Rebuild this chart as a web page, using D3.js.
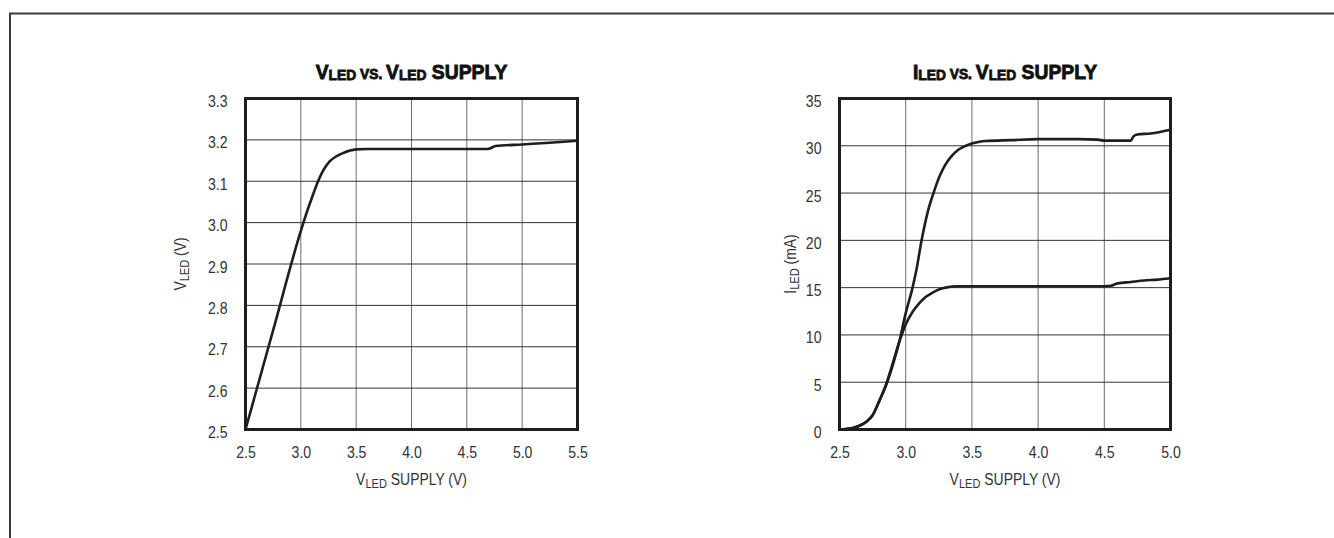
<!DOCTYPE html>
<html>
<head>
<meta charset="utf-8">
<script src="https://cdn.jsdelivr.net/npm/d3@7"></script>
<style>
  body { margin: 0; background: #fff; }
  svg { display: block; }
  .tick text { font-family: "Liberation Sans", Arial, sans-serif; font-size: 16px; fill: #333; }
  .lbl { font-family: "Liberation Sans", Arial, sans-serif; font-size: 17px; fill: #333; }
  .ttl { font-family: "Liberation Sans", Arial, sans-serif; font-weight: bold; fill: #111; stroke: #111; stroke-width: 0.9; }
</style>
</head>
<body>
<div id="chart"></div>
<script>
// ---- data ----
// left panel: VLED vs VLED supply
const leftSupply = [2.5, 2.75, 3.0, 3.06, 3.1, 3.156, 3.2, 3.26, 3.32, 3.38, 3.5, 3.6, 4.0, 4.5, 4.69, 4.76, 5.0, 5.25, 5.5];
const leftVled   = [2.5, 2.74, 2.98, 3.03, 3.06, 3.1, 3.125, 3.148, 3.16, 3.168, 3.177, 3.178, 3.178, 3.178, 3.178, 3.185, 3.189, 3.193, 3.198];

// right panel: ILED vs VLED supply, two settings
const supply30 = [2.5, 2.55, 2.6, 2.65, 2.7, 2.75, 2.8, 2.85, 2.9, 2.95, 3.0, 3.05, 3.08, 3.12, 3.17, 3.21, 3.26, 3.3, 3.34, 3.4, 3.47, 3.55, 3.6, 3.8, 4.0, 4.3, 4.45, 4.5, 4.7, 4.72, 4.75, 4.85, 5.0];
const iled30   = [0, 0.05, 0.15, 0.4, 0.8, 1.5, 3.0, 4.6, 6.7, 9.2, 12.3, 14.9, 16.8, 20.0, 23.2, 25.0, 26.9, 28.0, 28.8, 29.6, 30.1, 30.4, 30.5, 30.6, 30.7, 30.7, 30.65, 30.55, 30.55, 31.0, 31.2, 31.3, 31.7];
const supply15 = [2.5, 2.55, 2.6, 2.65, 2.7, 2.75, 2.8, 2.85, 2.9, 2.95, 3.0, 3.05, 3.1, 3.15, 3.2, 3.25, 3.3, 3.4, 3.6, 4.0, 4.5, 4.55, 4.6, 4.7, 4.8, 4.9, 5.0];
const iled15   = [0, 0.05, 0.15, 0.4, 0.8, 1.5, 3.0, 4.7, 6.9, 9.2, 11.1, 12.4, 13.3, 14.0, 14.45, 14.8, 15.0, 15.15, 15.15, 15.15, 15.15, 15.2, 15.45, 15.6, 15.75, 15.85, 16.0];

const leftXTicks  = [2.5, 3.0, 3.5, 4.0, 4.5, 5.0, 5.5];
const leftYTicks  = [2.5, 2.6, 2.7, 2.8, 2.9, 3.0, 3.1, 3.2, 3.3];
const rightXTicks = [2.5, 3.0, 3.5, 4.0, 4.5, 5.0];
const rightYTicks = [0, 5, 10, 15, 20, 25, 30, 35];

const W = 1334, H = 538;
const NARROW = 0.82;   // squeeze labels to look like a condensed face
const TICK_NARROW = 0.88;

const svg = d3.select("#chart").append("svg")
    .attr("width", W)
    .attr("height", H);

// outer frame (runs off the right and bottom edges)
svg.append("path")
    .attr("d", `M10,${H + 5} L10,13.5 L${W + 5},13.5`)
    .attr("fill", "none")
    .attr("stroke", "#3a3a3a")
    .attr("stroke-width", 2);

// adds big + small subscript + rest, as tspans
function subText(sel, big, small, rest, smallSize, dy) {
    sel.append("tspan").text(big);
    sel.append("tspan").attr("font-size", smallSize).attr("dy", dy).text(small);
    sel.append("tspan").attr("dy", -dy).text(rest);
}

function drawPanel(cfg) {
    const g = svg.append("g")
        .attr("transform", `translate(${cfg.left},${cfg.top})`);

    const x = d3.scaleLinear().domain(cfg.xDomain).range([0, cfg.width]);
    const y = d3.scaleLinear().domain(cfg.yDomain).range([cfg.height, 0]);

    // grid
    g.append("g")
        .selectAll("line").data(cfg.xTicks).join("line")
        .attr("x1", d => x(d)).attr("x2", d => x(d))
        .attr("y1", 0).attr("y2", cfg.height)
        .attr("stroke", "#6e6e6e").attr("stroke-width", 1);
    g.append("g")
        .selectAll("line").data(cfg.yTicks).join("line")
        .attr("x1", 0).attr("x2", cfg.width)
        .attr("y1", d => y(d)).attr("y2", d => y(d))
        .attr("stroke", "#333").attr("stroke-width", 1);

    // axes (labels only)
    const xAxis = d3.axisBottom(x).tickValues(cfg.xTicks).tickSize(0).tickPadding(17)
        .tickFormat(cfg.xFmt);
    const yAxis = d3.axisLeft(y).tickValues(cfg.yTicks).tickSize(0)
        .tickFormat(cfg.yFmt);

    g.append("g").attr("transform", `translate(0,${cfg.height})`).call(xAxis)
        .call(a => a.select(".domain").remove())
        .call(a => a.selectAll(".tick text").attr("transform", `scale(${TICK_NARROW},1)`));
    g.append("g").call(yAxis)
        .call(a => a.select(".domain").remove())
        .call(a => a.selectAll(".tick text")
            .attr("x", -18 / TICK_NARROW)
            .attr("dy", "0.5em")
            .attr("transform", `scale(${TICK_NARROW},1)`));

    // curves
    const line = d3.line()
        .x(d => x(d[0]))
        .y(d => y(d[1]))
        .curve(d3.curveMonotoneX);

    cfg.series.forEach(s => {
        g.append("path")
            .datum(s.xs.map((v, i) => [v, s.ys[i]]))
            .attr("d", line)
            .attr("fill", "none")
            .attr("stroke", "#1e1e1e")
            .attr("stroke-width", 2.6)
            .attr("stroke-linejoin", "round");
    });

    // frame of plot
    g.append("rect")
        .attr("width", cfg.width).attr("height", cfg.height)
        .attr("fill", "none")
        .attr("stroke", "#1e1e1e")
        .attr("stroke-width", 3);

    // title
    const t = g.append("g")
        .attr("transform", `translate(${cfg.width / 2},-20) scale(0.92,1)`)
        .append("text").attr("class", "ttl")
        .attr("text-anchor", "middle")
        .attr("font-size", 21);
    t.append("tspan").text(cfg.titleA);
    t.append("tspan").attr("font-size", 15).attr("dy", 1).text("LED");
    t.append("tspan").attr("font-size", 15).attr("dy", -1).text(" VS. ");
    t.append("tspan").text("V");
    t.append("tspan").attr("font-size", 15).attr("dy", 1).text("LED");
    t.append("tspan").attr("dy", -1).text(" SUPPLY");

    // x label
    const xl = g.append("g")
        .attr("transform", `translate(${cfg.width / 2},${cfg.height + 55}) scale(${NARROW},1)`)
        .append("text").attr("class", "lbl")
        .attr("text-anchor", "middle");
    subText(xl, "V", "LED", " SUPPLY (V)", 13.5, 3);

    // y label
    const yl = g.append("g")
        .attr("transform", `translate(${cfg.yLabelX},${cfg.height / 2}) rotate(-90) scale(${NARROW},1)`)
        .append("text").attr("class", "lbl")
        .attr("text-anchor", "middle");
    subText(yl, cfg.yLabelA, "LED", cfg.yLabelRest, 13.5, 3);
}

drawPanel({
    left: 245.5, top: 98.5, width: 332, height: 331,
    xDomain: [2.5, 5.5], yDomain: [2.5, 3.3],
    xTicks: leftXTicks, yTicks: leftYTicks,
    xFmt: d3.format(".1f"), yFmt: d3.format(".1f"),
    series: [{ xs: leftSupply, ys: leftVled }],
    titleA: "V",
    yLabelA: "V", yLabelRest: " (V)", yLabelX: -60
});

drawPanel({
    left: 839.5, top: 98.5, width: 331, height: 331,
    xDomain: [2.5, 5.0], yDomain: [0, 35],
    xTicks: rightXTicks, yTicks: rightYTicks,
    xFmt: d3.format(".1f"), yFmt: d3.format("d"),
    series: [{ xs: supply30, ys: iled30 }, { xs: supply15, ys: iled15 }],
    titleA: "I",
    yLabelA: "I", yLabelRest: " (mA)", yLabelX: -44
});
</script>
</body>
</html>
